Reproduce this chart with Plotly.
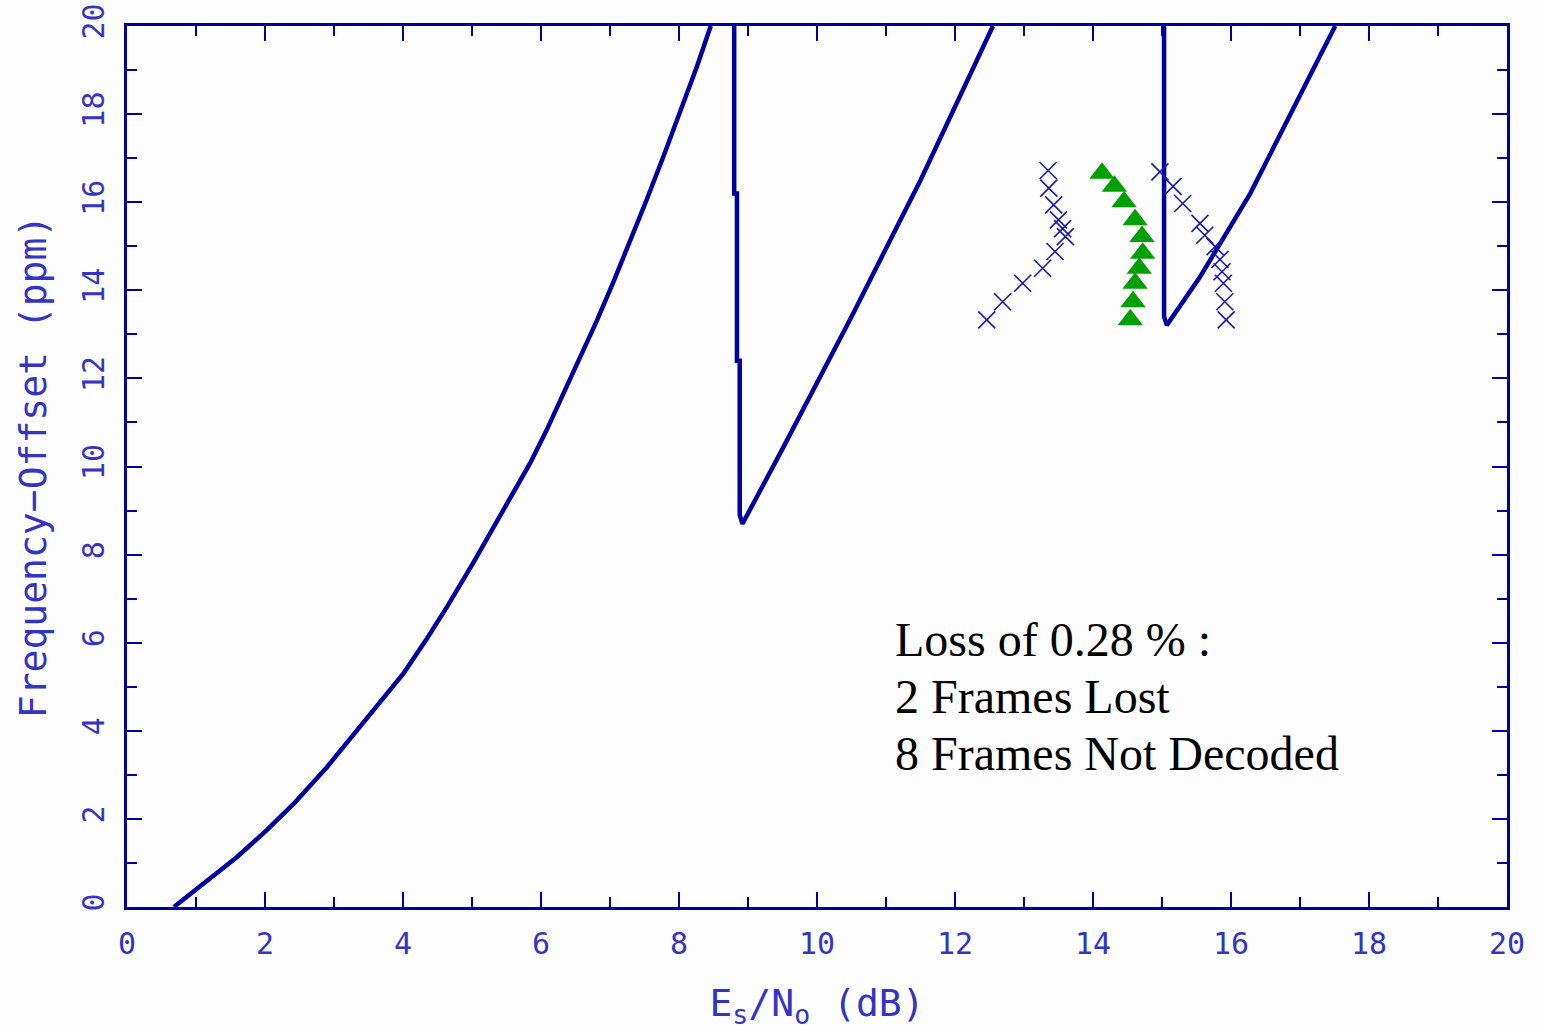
import plotly.graph_objects as go

# Low-SNR branch of the threshold curve (Es/No in dB vs. frequency offset in ppm)
branch1_esno = [0.68, 0.97, 1.26, 1.59, 2.03, 2.42, 2.90, 3.38, 3.67, 4.01, 4.35, 4.64, 5.02,
                5.31, 5.60, 5.84, 6.08, 6.32, 6.57, 6.81, 7.05, 7.29, 7.53, 7.77, 8.01, 8.26,
                8.46]
branch1_offset = [0.0, 0.36, 0.72, 1.13, 1.75, 2.35, 3.18, 4.09, 4.65, 5.31, 6.10, 6.82, 7.82,
                  8.60, 9.40, 10.07, 10.82, 11.62, 12.47, 13.31, 14.19, 15.10, 16.05, 17.02,
                  18.02, 19.08, 20.0]

# Upper branches with their vertical drops; None splits them
branch2_esno = [8.80, 8.80, 8.84, 8.84, 8.88, 8.88, 8.92, 9.5, 10.5, 11.5, 12.55, None,
                15.03, 15.03, 15.07, 15.55, 16.28, 17.0, 17.51]
branch2_offset = [20.0, 16.2, 16.2, 12.4, 12.4, 8.9, 8.7, 10.4, 13.4, 16.5, 20.0, None,
                  20.0, 13.4, 13.21, 14.3, 16.2, 18.45, 20.0]

# Measured points, first group (crosses, left)
x_set_a = [12.46, 12.69, 12.98, 13.27, 13.45, 13.60, 13.56, 13.50, 13.43, 13.36, 13.35]
y_set_a = [13.33, 13.74, 14.16, 14.50, 14.88, 15.22, 15.40, 15.60, 15.94, 16.32, 16.72]

# Measured points, triangles
x_set_b = [14.13, 14.31, 14.45, 14.61, 14.71, 14.72, 14.67, 14.61, 14.58, 14.54]
y_set_b = [16.66, 16.36, 16.01, 15.60, 15.22, 14.84, 14.50, 14.16, 13.74, 13.33]

# Measured points, second group (crosses, right)
x_set_c = [14.97, 15.16, 15.30, 15.55, 15.62, 15.77, 15.84, 15.87, 15.89, 15.91, 15.93]
y_set_c = [16.69, 16.36, 15.97, 15.52, 15.25, 14.99, 14.70, 14.42, 14.16, 13.74, 13.33]

x_ticks = [0, 2, 4, 6, 8, 10, 12, 14, 16, 18, 20]
y_ticks = [0, 2, 4, 6, 8, 10, 12, 14, 16, 18, 20]

# Annotation lines and their vertical positions (ppm)
note_lines = ["Loss of 0.28 % :", "2 Frames Lost", "8 Frames Not Decoded"]
note_y = [6.08, 4.77, 3.48]
note_x = 11.1

NAVY = "#0000a0"
LABEL_BLUE = "#3434c4"
MONO = "DejaVu Sans Mono"

fig = go.Figure()

fig.add_trace(go.Scatter(
    x=branch1_esno, y=branch1_offset, mode="lines",
    line=dict(color=NAVY, width=4.5), hoverinfo="skip"))
fig.add_trace(go.Scatter(
    x=branch2_esno, y=branch2_offset, mode="lines",
    line=dict(color=NAVY, width=4.5), connectgaps=False, hoverinfo="skip"))

cross_marker = dict(symbol="x-thin", size=17, color="#1a1aa8",
                    line=dict(color="#1a1aa8", width=1.6))

fig.add_trace(go.Scatter(x=x_set_a, y=y_set_a, mode="markers", marker=cross_marker))
fig.add_trace(go.Scatter(x=x_set_c, y=y_set_c, mode="markers", marker=cross_marker))
fig.add_trace(go.Scatter(
    x=x_set_b, y=y_set_b, mode="markers",
    marker=dict(symbol="triangle-up", size=22, color="#00a000",
                line=dict(width=0))))

axis_common = dict(
    range=[0, 20], showgrid=False, zeroline=False, automargin=False,
    showline=True, linecolor=NAVY, linewidth=3, mirror="ticks",
    ticks="inside", ticklen=15, tickwidth=2, tickcolor=NAVY,
    tickfont=dict(family=MONO, size=30, color=LABEL_BLUE),
    minor=dict(dtick=1, ticks="inside", ticklen=10, tickwidth=2,
               tickcolor=NAVY, showgrid=False),
)

fig.update_xaxes(
    **axis_common,
    tickmode="array", tickvals=x_ticks, ticktext=[str(v) for v in x_ticks],
    ticklabelstandoff=8,
    title=dict(text="E<sub>s</sub>/N<sub>o</sub> (dB)",
               font=dict(family=MONO, size=38, color=LABEL_BLUE), standoff=30),
)
fig.update_yaxes(
    **axis_common,
    tickmode="array", tickvals=y_ticks, ticktext=[str(v) for v in y_ticks],
    tickangle=-90, ticklabelstandoff=8,
    title=dict(text="Frequency\u2212Offset (ppm)",
               font=dict(family=MONO, size=38, color=LABEL_BLUE), standoff=18),
)

for line_text, ly in zip(note_lines, note_y):
    fig.add_annotation(
        x=note_x, y=ly, xref="x", yref="y", xanchor="left", yanchor="middle",
        align="left", showarrow=False, text=line_text,
        font=dict(family="Liberation Serif", size=48, color="#000000"))

fig.update_layout(
    width=1547, height=1033,
    margin=dict(l=127, r=40, t=26, b=126),
    plot_bgcolor="#fdfdfd", paper_bgcolor="#fdfdfd",
    showlegend=False,
)

fig.write_html("out.html")
